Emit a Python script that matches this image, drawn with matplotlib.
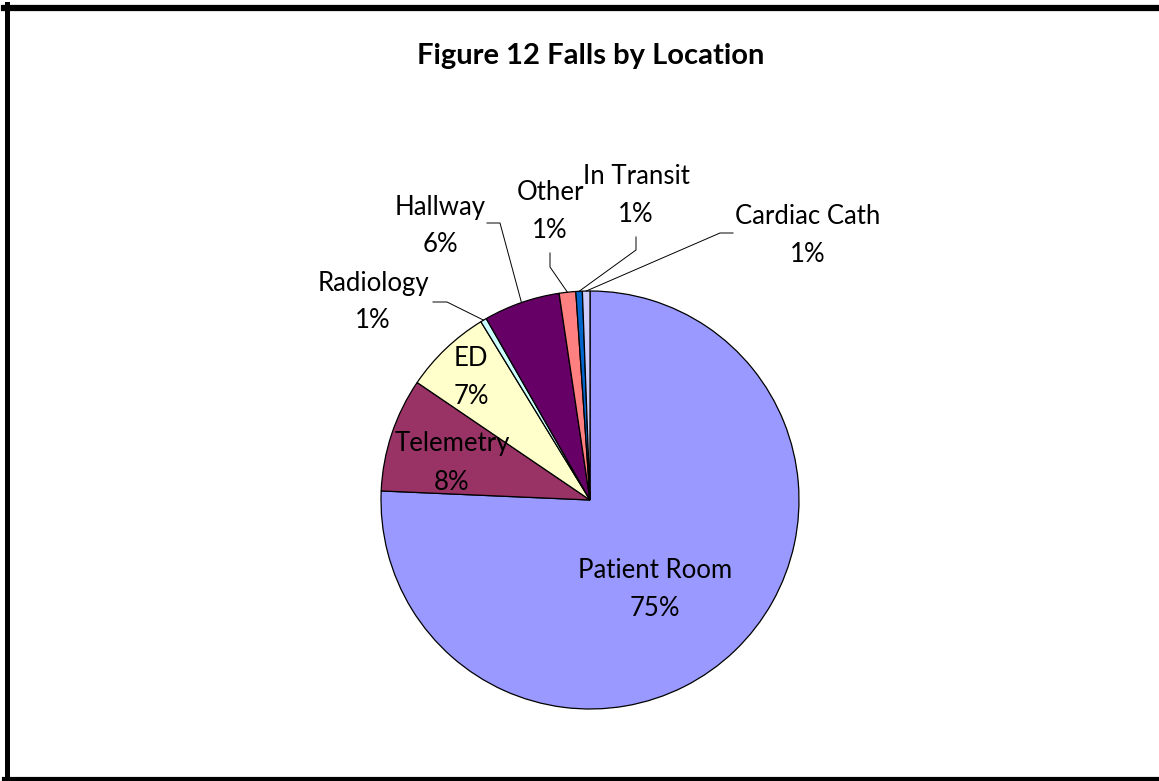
import matplotlib
matplotlib.use("Agg")
import matplotlib.pyplot as plt
import numpy as np
from matplotlib.lines import Line2D

plt.rcParams['font.family'] = ['Lato', 'DejaVu Sans']

# Falls by location, shares (percent)
locations = ["Patient Room", "Telemetry", "ED", "Radiology", "Hallway",
             "Other", "In Transit", "Cardiac Cath"]
shares = [75.6, 8.8, 6.75, 0.47, 5.9, 1.28, 0.5, 0.58]
pct_labels = ["75%", "8%", "7%", "1%", "6%", "1%", "1%", "1%"]
colors = ["#9999FF", "#993366", "#FFFFCC", "#CCFFFF", "#660066",
          "#FF8080", "#0066CC", "#CCCCFF"]

W, H = 1159, 781
cx, cy, R = 590, 500, 209

# label centres in pixels, and leader line (start, elbow) for outside labels
label_px = {
    "Patient Room": (655, 590), "Telemetry": (452, 463), "ED": (471, 378),
    "Radiology": (373, 302), "Hallway": (440, 226), "Other": (550, 211),
    "In Transit": (636, 195), "Cardiac Cath": (808, 235),
}
leaders = {
    "Radiology": [(433, 302), (447, 302)],
    "Hallway": [(487, 223), (500, 223)],
    "Other": [(550, 253), (550, 267)],
    "In Transit": [(636, 237), (636, 250)],
    "Cardiac Cath": [(733, 233), (720, 233)],
}

def to_data(p):
    return ((p[0] - cx) / R, (cy - p[1]) / R)

fig = plt.figure(figsize=(W / 100, H / 100), dpi=100)
ax = fig.add_axes([(cx - R) / W, (H - cy - R) / H, 2 * R / W, 2 * R / H])
wedges, _ = ax.pie(shares, colors=colors, startangle=90, counterclock=False,
                   wedgeprops=dict(edgecolor="black", linewidth=0.9))
ax.set_xlim(-1, 1)
ax.set_ylim(-1, 1)
ax.axis("off")

for w, name, pct in zip(wedges, locations, pct_labels):
    x, y = to_data(label_px[name])
    ax.text(x, y, name + "\n" + pct, ha="center", va="center", fontsize=18.5,
            linespacing=1.65, clip_on=False)
    if name in leaders:
        mid = np.deg2rad((w.theta1 + w.theta2) / 2)
        pts = [to_data(p) for p in leaders[name]] + [(np.cos(mid), np.sin(mid))]
        xs, ys = zip(*pts)
        ax.plot(xs, ys, color="black", linewidth=0.7, clip_on=False)

fig.text(591 / W, 1 - 56 / H, "Figure 12 Falls by Location", ha="center",
         va="center", fontsize=21, fontweight="bold")

# chart frame (right side is cut off in the original)
fig.add_artist(Line2D([6.5 / W, 6.5 / W], [1 - 4 / H, 1 - 779 / H],
                      transform=fig.transFigure, color="black", linewidth=3.6))
fig.add_artist(Line2D([4 / W, 1], [1 - 7.5 / H, 1 - 7.5 / H],
                      transform=fig.transFigure, color="black", linewidth=4.5))
fig.add_artist(Line2D([4 / W, 1], [1 - 779 / H, 1 - 779 / H],
                      transform=fig.transFigure, color="black", linewidth=3))

fig.savefig("out.png", dpi=100)
